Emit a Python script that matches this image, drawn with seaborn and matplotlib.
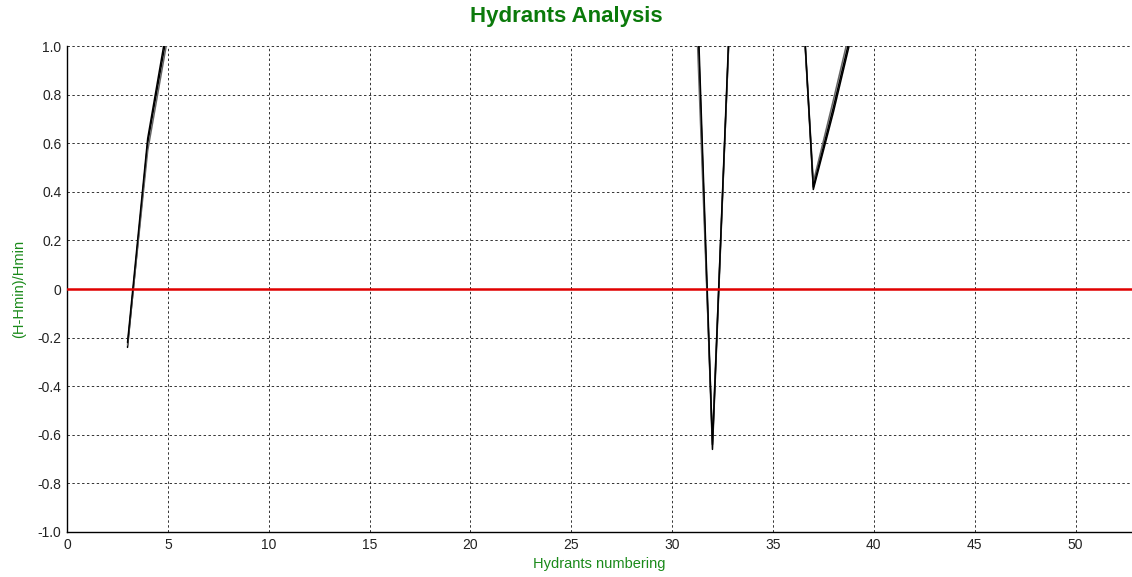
import numpy as np
import pandas as pd
import matplotlib
matplotlib.use("Agg")
import matplotlib.pyplot as plt
import seaborn as sns

# hydrant numbers where the curves are visible (three groups)
hydrants = [3, 4, 5, 31, 32, 33, 36, 37, 38, 39]
segment = [1, 1, 1, 2, 2, 2, 3, 3, 3, 3]

# (H-Hmin)/Hmin for the three overlapping runs
run_a = [-0.24, 0.60, 1.07, 1.75, -0.66, 1.42, 1.87, 0.41, 0.73, 1.08]
run_b = [-0.23, 0.57, 1.04, 1.58, -0.62, 1.40, 1.84, 0.44, 0.78, 1.13]
run_c = [-0.22, 0.62, 1.10, 1.82, -0.64, 1.44, 1.89, 0.42, 0.75, 1.10]
run_names = ["A", "B", "C"]
run_colors = ["black", "#666666", "black"]

reference_level = 0.0

x_ticks = [0, 5, 10, 15, 20, 25, 30, 35, 40, 45, 50]
y_ticks = [-1.0, -0.8, -0.6, -0.4, -0.2, 0.0, 0.2, 0.4, 0.6, 0.8, 1.0]
y_tick_labels = ["-1.0", "-0.8", "-0.6", "-0.4", "-0.2", "0", "0.2", "0.4", "0.6", "0.8", "1.0"]

rows = []
for name, vals in zip(run_names, [run_a, run_b, run_c]):
    for h, s, v in zip(hydrants, segment, vals):
        rows.append({"hydrant": h, "seg": s, "value": v, "run": name})
df = pd.DataFrame(rows)

sns.set_style("white")
plt.rcParams["font.family"] = ["Liberation Sans", "DejaVu Sans"]

fig = plt.figure(figsize=(11.32, 5.77), dpi=100)
ax = fig.add_axes([0.0592, 0.078, 0.9408, 0.842])

sns.lineplot(data=df, x="hydrant", y="value", hue="run", units="seg",
             estimator=None, palette=run_colors, linewidth=1.1,
             legend=False, ax=ax)
ax.axhline(reference_level, color="#e00000", linewidth=1.8, zorder=3)

ax.set_xlim(0, 52.8)
ax.set_ylim(-1.0, 1.0)
ax.set_xticks(x_ticks)
ax.set_yticks(y_ticks)
ax.set_yticklabels(y_tick_labels)
ax.grid(True, color="black", linestyle=(0, (2.5, 2.5)), linewidth=0.7, alpha=0.8)
ax.set_axisbelow(True)

for side in ["top", "right"]:
    ax.spines[side].set_visible(False)
for side in ["left", "bottom"]:
    ax.spines[side].set_color("black")
    ax.spines[side].set_linewidth(1.0)
ax.tick_params(axis="both", direction="out", length=3, width=0.8,
               labelsize=10, colors="#222222", pad=1)

ax.set_xlabel("Hydrants numbering", color="#1a8a1a", fontsize=10.5, labelpad=4)
ax.set_ylabel("(H-Hmin)/Hmin", color="#1a8a1a", fontsize=10.5, labelpad=8)
fig.suptitle("Hydrants Analysis", color="#0b7a0b", fontsize=16,
             fontweight="bold", y=0.99)

fig.savefig("out.png", dpi=100)
